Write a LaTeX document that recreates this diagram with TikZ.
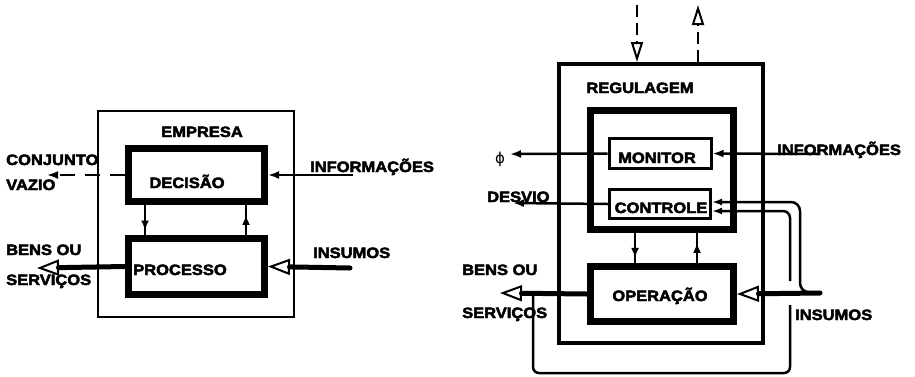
\documentclass[tikz,border=0pt]{standalone}
\usepackage{fontspec}
\setmainfont{Liberation Sans}[FakeStretch=1.1, BoldFeatures={FakeBold=3}]
\newfontfamily\simbolo{DejaVu Sans}
\usetikzlibrary{arrows.meta,decorations.markings}

\begin{document}
\begin{tikzpicture}[x=1pt,y=-1pt,
  rotulo/.style={font=\bfseries\fontsize{15}{17}\selectfont, inner sep=0pt},
  moldura/.style={draw, line width=2.5pt, inner sep=0pt},
  caixagrossa/.style={draw, line width=7pt, inner sep=0pt},
  caixafina/.style={draw, line width=3pt, inner sep=0pt},
  info/.style={line width=2.5pt, -{Latex[length=11pt,width=8pt]}},
  material/.style={line width=5pt, line cap=round,
    -{Triangle[open,length=22pt,width=16pt,line width=2pt]}},
  externo/.style={line width=2.5pt, dash pattern=on 12pt off 6pt,
    -{Triangle[open,length=20pt,width=12pt,line width=2pt]}},
  laco/.style={line width=2.5pt},
  setameio/.style={line width=2.5pt, postaction={decorate},
    decoration={markings, mark=at position #1 with {\arrow{Latex[length=10pt,width=8pt]}}}}
]

\useasboundingbox (0,0) rectangle (915,376);

% Empresa
\begin{scope}

\node[moldura, minimum width=196pt, minimum height=206pt] (empresa) at (196,214) {};
\node[caixagrossa, minimum width=136pt, minimum height=53pt] (decisao) at (196.5,175) {};
\node[caixagrossa, minimum width=136pt, minimum height=56pt] (processo) at (196.5,266.5) {};

\node[rotulo, anchor=base] (tEmpresa) at (202,137) {EMPRESA};
\node[rotulo, anchor=base] (tDecisao) at (187,188) {DECISÃO};
\node[rotulo, anchor=base] (tProcesso) at (180,275) {PROCESSO};

\node[rotulo, anchor=base west] (tConjunto) at (6,165) {CONJUNTO};
\node[rotulo, anchor=base west] (tVazio) at (6,190) {VAZIO};
\node[rotulo, anchor=base west] (tBensE) at (6,255) {BENS OU};
\node[rotulo, anchor=base west] (tServicosE) at (6,285) {SERVIÇOS};
\node[rotulo, anchor=base west] (tInfoE) at (310,172) {INFORMAÇÕES};
\node[rotulo, anchor=base west] (tInsumosE) at (313,258) {INSUMOS};

\coordinate (vazio) at (47,175);
\coordinate (infoE) at (353,175);
\coordinate (bensE) at (37,268);
\coordinate (insumosE) at (350,268);

% Fluxos
\draw[info, dash pattern=on 15pt off 10pt] (decisao.west) -- (vazio);
\draw[info] (infoE) -- (decisao.east);
\draw[material] (processo.west) -- (bensE);
\draw[material] (insumosE) -- (processo.east);

\draw[setameio=0.85] ([xshift=-51.5pt]decisao.south) -- ([xshift=-51.5pt]processo.north);
\draw[setameio=0.67] ([xshift=49.5pt]processo.north) -- ([xshift=49.5pt]decisao.south);

\end{scope}

% Regulagem
\begin{scope}

\node[moldura, line width=4pt, minimum width=204pt, minimum height=279pt] (regulagem) at (661,203.5) {};
\node[caixagrossa, minimum width=143pt, minimum height=119pt] (gestao) at (662,170) {};
\node[caixafina, minimum width=102pt, minimum height=30pt] (monitor) at (660,153.5) {};
\node[caixafina, minimum width=101pt, minimum height=29pt] (controle) at (660,204) {};
\node[caixagrossa, minimum width=143pt, minimum height=55pt] (operacao) at (662,294) {};

\node[rotulo, anchor=base] (tRegulagem) at (640,93) {REGULAGEM};
\node[rotulo, anchor=base] (tMonitor) at (657,163) {MONITOR};
\node[rotulo, anchor=base] (tControle) at (661,213) {CONTROLE};
\node[rotulo, anchor=base] (tOperacao) at (660,301) {OPERAÇÃO};

\node[font=\simbolo\fontsize{15}{17}\selectfont, inner sep=0pt, anchor=base] (tPhi) at (500,163) {ϕ};
\node[rotulo, anchor=base west] (tDesvio) at (487,202) {DESVIO};
\node[rotulo, anchor=base west] (tInfoD) at (777,155) {INFORMAÇÕES};
\node[rotulo, anchor=base west] (tBensD) at (462,275) {BENS OU};
\node[rotulo, anchor=base west] (tServicosD) at (462,318) {SERVIÇOS};
\node[rotulo, anchor=base west] (tInsumosD) at (795,320) {INSUMOS};

\coordinate (phi) at (510,154);
\coordinate (desvio) at (513,203);
\coordinate (infoD) at (818,154);
\coordinate (bensD) at (500,293);
\coordinate (insumosD) at (820,293);
\coordinate (cimaA) at (637,5);
\coordinate (cimaB) at (698,5);
\coordinate (retorno) at (533,293);

% Sinais externos
\draw[externo] (cimaA) -- (cimaA |- regulagem.north);
\draw[externo] (cimaB |- regulagem.north) -- (cimaB);

% Fluxos
\draw[info] (monitor.west) -- (phi);
\draw[info] (infoD) -- (monitor.east);
\draw[info] (controle.west) -- (desvio);
\draw[material] (operacao.west) -- (bensD);
\draw[material] (insumosD) -- (operacao.east);

\draw[setameio=0.83] ([xshift=-27pt]gestao.south) -- ([xshift=-27pt]operacao.north);
\draw[setameio=0.67] ([xshift=35pt]operacao.north) -- ([xshift=35pt]gestao.south);

% Retroacao
\draw[laco, rounded corners=9pt, -{Latex[length=10pt,width=7pt]}]
(insumosD) -- (800,292) -- (800,202) -- ([yshift=2pt]controle.east);
\draw[laco, rounded corners=7pt, -{Latex[length=10pt,width=7pt]}]
(790,281) -- (790,211) -- ([yshift=-7pt]controle.east);
\draw[laco, rounded corners=6pt]
(790,305) -- (790,373) -- (533,373) -- (retorno);

\end{scope}

\end{tikzpicture}
\end{document}
